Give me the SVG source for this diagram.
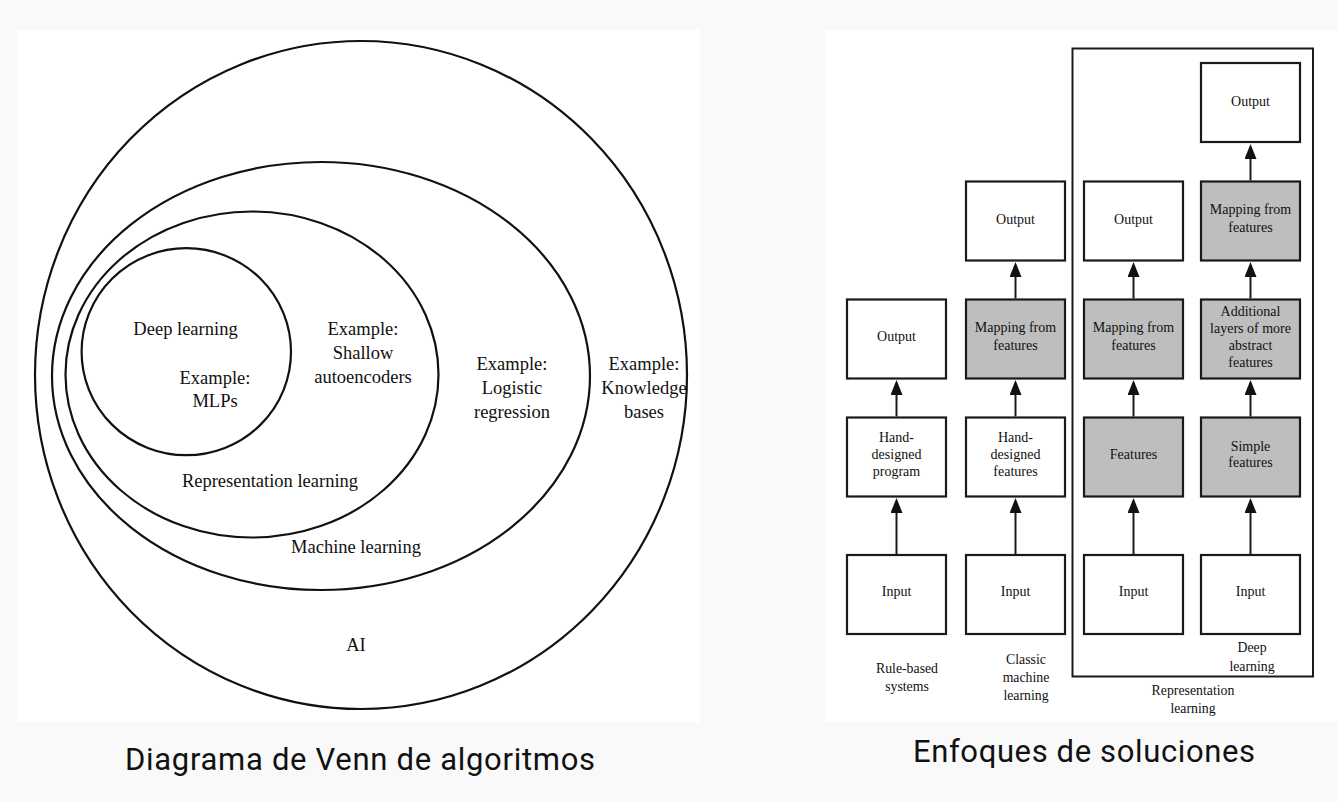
<svg xmlns="http://www.w3.org/2000/svg" width="1337" height="802" viewBox="0 0 1337 802">
<defs>
<style>
.panel{fill:#ffffff}
.venn{fill:none;stroke:#111;stroke-width:2.2}
.vt{font-family:"Liberation Serif","Times New Roman",serif;font-size:18.5px;fill:#111;text-anchor:middle}
.box{fill:#ffffff;stroke:#1a1a1a;stroke-width:2.2}
.gray{fill:#bebebe}
.bt{font-family:"Liberation Serif","Times New Roman",serif;font-size:14px;fill:#111;text-anchor:middle}
.lt{font-family:"Liberation Serif","Times New Roman",serif;font-size:13.8px;fill:#111;text-anchor:middle}
.frame{fill:none;stroke:#1a1a1a;stroke-width:2}
.title{font-family:Roboto,"Noto Sans",sans-serif;font-size:31px;fill:#111;text-anchor:middle}
.arr{stroke:#1a1a1a;stroke-width:2;fill:none;marker-end:url(#ah)}
</style>
<marker id="ah" viewBox="0 0 15 12" refX="12" refY="6" markerWidth="15" markerHeight="12" markerUnits="userSpaceOnUse" orient="auto">
<path d="M0,0 L15,6 L0,12 Z" fill="#111"/>
</marker>
</defs>
<rect x="0" y="0" width="1337" height="802" fill="#f9f9f9"/>
<rect class="panel" x="18" y="30" width="682" height="692"/>
<rect class="panel" x="825" y="30" width="512" height="692"/>

<!-- Venn diagram -->
<g id="venn-ai">
<ellipse class="venn" cx="361" cy="375" rx="326" ry="334"/>
<text class="vt" x="356" y="651">AI</text>
<text class="vt" x="644" y="370">Example:</text>
<text class="vt" x="644" y="394">Knowledge</text>
<text class="vt" x="644" y="418">bases</text>
</g>
<g id="venn-ml">
<ellipse class="venn" cx="321" cy="376" rx="269" ry="214"/>
<text class="vt" x="356" y="553">Machine learning</text>
<text class="vt" x="512" y="370">Example:</text>
<text class="vt" x="512" y="394">Logistic</text>
<text class="vt" x="512" y="418">regression</text>
</g>
<g id="venn-rl">
<ellipse class="venn" cx="252" cy="374.5" rx="186.5" ry="163"/>
<text class="vt" x="270" y="487">Representation learning</text>
<text class="vt" x="363" y="335">Example:</text>
<text class="vt" x="363" y="359">Shallow</text>
<text class="vt" x="363" y="383">autoencoders</text>
</g>
<g id="venn-dl">
<ellipse class="venn" cx="186.3" cy="351.7" rx="104.7" ry="103.5"/>
<text class="vt" x="185.5" y="335">Deep learning</text>
<text class="vt" x="215" y="384">Example:</text>
<text class="vt" x="215" y="407">MLPs</text>
</g>
<text id="title-left" class="title" x="360" y="770" textLength="470" lengthAdjust="spacing">Diagrama de Venn de algoritmos</text>

<!-- Representation learning frame -->
<g id="rep-frame">
<rect class="frame" x="1072.5" y="48.5" width="240.5" height="628"/>
<text class="lt" x="1193" y="695">Representation</text>
<text class="lt" x="1193" y="713">learning</text>
</g>

<!-- Column 1: Rule-based systems -->
<g id="c1-input"><rect class="box" x="847" y="555" width="99" height="79"/><text class="bt" x="896.5" y="596">Input</text></g>
<g id="c1-program"><rect class="box" x="847" y="417.5" width="99" height="79"/><text class="bt" x="896.5" y="442">Hand-</text><text class="bt" x="896.5" y="458.5">designed</text><text class="bt" x="896.5" y="476">program</text></g>
<g id="c1-output"><rect class="box" x="847" y="299.5" width="99" height="79"/><text class="bt" x="896.5" y="340.5">Output</text></g>
<g id="c1-label"><text class="lt" x="907" y="673">Rule-based</text><text class="lt" x="907" y="691">systems</text></g>

<!-- Column 2: Classic machine learning -->
<g id="c2-input"><rect class="box" x="966" y="555" width="99" height="79"/><text class="bt" x="1015.5" y="596">Input</text></g>
<g id="c2-features"><rect class="box" x="966" y="417.5" width="99" height="79"/><text class="bt" x="1015.5" y="442">Hand-</text><text class="bt" x="1015.5" y="458.5">designed</text><text class="bt" x="1015.5" y="476">features</text></g>
<g id="c2-mapping"><rect class="box gray" x="966" y="299.5" width="99" height="79"/><text class="bt" x="1015.5" y="332">Mapping from</text><text class="bt" x="1015.5" y="350">features</text></g>
<g id="c2-output"><rect class="box" x="966" y="181.5" width="99" height="79"/><text class="bt" x="1015.5" y="224">Output</text></g>
<g id="c2-label"><text class="lt" x="1026" y="663.5">Classic</text><text class="lt" x="1026" y="681.5">machine</text><text class="lt" x="1026" y="699.5">learning</text></g>

<!-- Column 3 -->
<g id="c3-input"><rect class="box" x="1084" y="555" width="99" height="79"/><text class="bt" x="1133.5" y="596">Input</text></g>
<g id="c3-features"><rect class="box gray" x="1084" y="417.5" width="99" height="79"/><text class="bt" x="1133.5" y="458.5">Features</text></g>
<g id="c3-mapping"><rect class="box gray" x="1084" y="299.5" width="99" height="79"/><text class="bt" x="1133.5" y="332">Mapping from</text><text class="bt" x="1133.5" y="350">features</text></g>
<g id="c3-output"><rect class="box" x="1084" y="181.5" width="99" height="79"/><text class="bt" x="1133.5" y="224">Output</text></g>

<!-- Column 4: Deep learning -->
<g id="c4-input"><rect class="box" x="1201" y="555" width="99" height="79"/><text class="bt" x="1250.5" y="596">Input</text></g>
<g id="c4-simple"><rect class="box gray" x="1201" y="417.5" width="99" height="79"/><text class="bt" x="1250.5" y="450.5">Simple</text><text class="bt" x="1250.5" y="467">features</text></g>
<g id="c4-additional"><rect class="box gray" x="1201" y="299.5" width="99" height="79"/><text class="bt" x="1250.5" y="315.5">Additional</text><text class="bt" x="1250.5" y="332.5">layers of more</text><text class="bt" x="1250.5" y="350">abstract</text><text class="bt" x="1250.5" y="366.5">features</text></g>
<g id="c4-mapping"><rect class="box gray" x="1201" y="181.5" width="99" height="79"/><text class="bt" x="1250.5" y="214">Mapping from</text><text class="bt" x="1250.5" y="232">features</text></g>
<g id="c4-output"><rect class="box" x="1201" y="63" width="99" height="79"/><text class="bt" x="1250.5" y="105.5">Output</text></g>
<g id="c4-label"><text class="lt" x="1252" y="652">Deep</text><text class="lt" x="1252" y="670.5">learning</text></g>

<text id="title-right" class="title" x="1084" y="762" textLength="342" lengthAdjust="spacing">Enfoques de soluciones</text>

<!-- Connectors -->
<g id="connectors">
<line class="arr" x1="896.5" y1="554" x2="896.5" y2="501"/>
<line class="arr" x1="896.5" y1="416.5" x2="896.5" y2="383"/>
<line class="arr" x1="1015.5" y1="554" x2="1015.5" y2="501"/>
<line class="arr" x1="1015.5" y1="416.5" x2="1015.5" y2="383"/>
<line class="arr" x1="1015.5" y1="298.5" x2="1015.5" y2="265"/>
<line class="arr" x1="1133.5" y1="554" x2="1133.5" y2="501"/>
<line class="arr" x1="1133.5" y1="416.5" x2="1133.5" y2="383"/>
<line class="arr" x1="1133.5" y1="298.5" x2="1133.5" y2="265"/>
<line class="arr" x1="1250.5" y1="554" x2="1250.5" y2="501"/>
<line class="arr" x1="1250.5" y1="416.5" x2="1250.5" y2="383"/>
<line class="arr" x1="1250.5" y1="298.5" x2="1250.5" y2="265"/>
<line class="arr" x1="1250.5" y1="180.5" x2="1250.5" y2="147"/>
</g>
</svg>
